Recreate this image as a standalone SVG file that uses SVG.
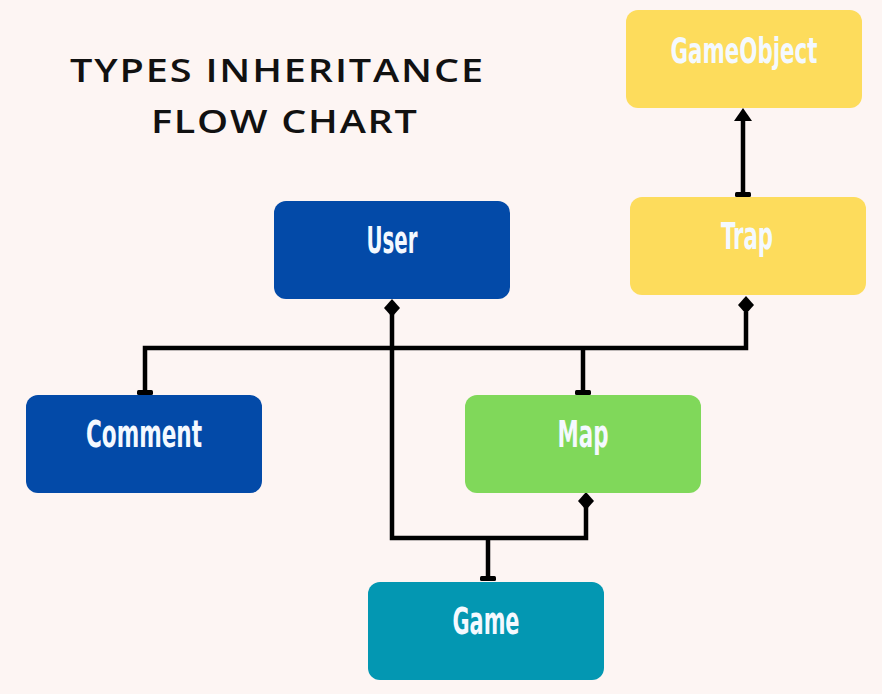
<svg xmlns="http://www.w3.org/2000/svg" width="882" height="694" viewBox="0 0 882 694">
<style>
.lbl{font-family:"Liberation Sans Narrow","DejaVu Sans Condensed","Liberation Sans",sans-serif;font-weight:bold;font-size:38px;fill:#f4f9ff;text-anchor:middle}
.ttl{font-family:"Open Sans","Liberation Sans",sans-serif;font-weight:600;font-size:33px;fill:#111}
.c{fill:none;stroke:#000;stroke-width:4.5;stroke-linejoin:miter}
</style>
<rect width="882" height="694" fill="#fdf5f3"/>
<g transform="scale(1.2 1)">
<text class="ttl" x="58.33" y="82" textLength="344.17" lengthAdjust="spacing">TYPES INHERITANCE</text>
<text class="ttl" x="125.83" y="133" textLength="221.67" lengthAdjust="spacing">FLOW CHART</text>
</g>
<g id="connectors">
<path class="c" d="M743 196 V118"/>
<path d="M743 108 L752 121 L734 121 Z" fill="#000"/>
<rect x="735" y="192" width="16" height="5" rx="1.5"/>
<path class="c" d="M746 312 V348 H145 V393"/>
<path class="c" d="M583 348 V393"/>
<rect x="137" y="390" width="16" height="5" rx="1.5"/>
<rect x="575" y="390" width="16" height="5" rx="1.5"/>
<path d="M746 296 L754 305 L746 314 L738 305 Z"/>
<path class="c" d="M392 314 V538 H586 V506"/>
<path d="M392 299 L400 308 L392 317 L384 308 Z"/>
<path d="M586 492 L594 501 L586 510 L578 501 Z"/>
<path class="c" d="M488 538 V579"/>
<rect x="480" y="576" width="16" height="5" rx="1.5"/>
</g>
<g id="GameObject"><rect x="626" y="10" width="236" height="98" rx="12" fill="#fddc5c"/><text class="lbl" transform="translate(744 63) scale(0.66 1)" x="0" y="0" style="font-size:36px">GameObject</text></g>
<g id="Trap"><rect x="630" y="197" width="236" height="98" rx="12" fill="#fddc5c"/><text class="lbl" x="747" y="249" textLength="52" lengthAdjust="spacingAndGlyphs">Trap</text></g>
<g id="User"><rect x="274" y="201" width="236" height="98" rx="12" fill="#034aa8"/><text class="lbl" x="392" y="253" textLength="51" lengthAdjust="spacingAndGlyphs">User</text></g>
<g id="Comment"><rect x="26" y="395" width="236" height="98" rx="12" fill="#034aa8"/><text class="lbl" x="144" y="447" textLength="116" lengthAdjust="spacingAndGlyphs">Comment</text></g>
<g id="Map"><rect x="465" y="395" width="236" height="98" rx="12" fill="#80d85a"/><text class="lbl" x="583" y="447" textLength="51" lengthAdjust="spacingAndGlyphs">Map</text></g>
<g id="Game"><rect x="368" y="582" width="236" height="98" rx="12" fill="#0397b2"/><text class="lbl" x="486" y="634" textLength="67" lengthAdjust="spacingAndGlyphs">Game</text></g>
</svg>
